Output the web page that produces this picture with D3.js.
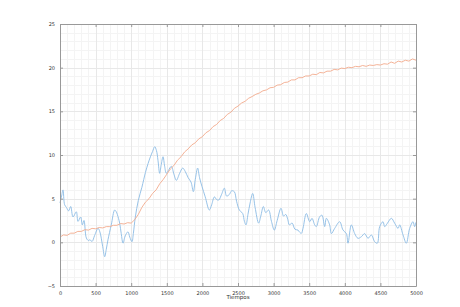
<!DOCTYPE html>
<html><head><meta charset="utf-8">
<script src="https://cdn.jsdelivr.net/npm/d3@7"></script>
<style>html,body{margin:0;padding:0;background:#fff;}svg{display:block;}</style>
</head><body>
<svg id="c" width="460" height="307"></svg>
<script>
const xTicks = [0,500,1000,1500,2000,2500,3000,3500,4000,4500,5000];
const yTicks = [-5,0,5,10,15,20,25];
const xLabel = "Tiempos";

const blueT = [0,20,42,65,90,120,150,183,229,253,290,314,337,370,400,420,450,487,534,560,600,627,650,674,720,768,790,805,838,860,885,910,932,955,980,1011,1030,1058,1100,1150,1200,1236,1270,1300,1330,1355,1376,1400,1420,1447,1470,1493,1520,1564,1600,1634,1680,1723,1760,1800,1840,1873,1900,1933,1960,1994,2040,2097,2130,2168,2200,2229,2270,2308,2340,2380,2410,2448,2480,2519,2566,2590,2612,2640,2670,2706,2740,2790,2820,2856,2890,2930,2970,3010,3050,3104,3140,3170,3200,3221,3260,3300,3343,3361,3390,3413,3460,3507,3539,3577,3600,3647,3680,3717,3741,3787,3811,3858,3928,3975,4022,4045,4092,4139,4185,4232,4279,4326,4373,4420,4457,4490,4537,4560,4598,4654,4701,4748,4771,4818,4864,4911,4958,4981,5000];
const blueV = [4.5,5.2,6.0,4.3,4.0,3.6,4.1,2.9,3.5,2.4,2.9,2.0,2.5,0.5,0.2,0.3,0.1,0.8,1.6,1.2,-0.5,-1.65,-0.8,0.3,2.0,3.7,3.5,3.2,2.2,1.0,-0.1,0.6,1.0,1.2,0.6,0.07,1.0,2.9,4.8,6.3,8.0,9.0,9.8,10.4,10.95,10.5,9.4,7.9,8.8,9.8,8.7,7.9,8.2,8.7,7.8,7.1,7.9,8.5,8.1,7.4,6.9,5.8,7.2,8.5,7.4,6.4,5.2,3.7,4.3,5.2,4.9,4.84,5.5,6.2,5.3,5.5,5.9,5.8,4.7,3.7,3.3,2.4,2.0,3.2,4.5,5.6,4.0,2.2,3.0,4.1,3.4,3.7,2.4,1.4,2.5,3.9,3.0,3.2,2.6,2.0,2.2,1.5,1.4,1.2,1.03,1.6,3.3,2.36,2.75,2.0,1.8,2.93,3.1,1.8,2.75,2.0,1.0,1.6,2.36,1.4,1.0,-0.1,2.0,1.0,0.46,0.64,1.0,0.46,0.84,0.07,-0.1,1.8,2.36,1.8,2.18,2.75,2.18,1.6,2.0,0.84,-0.1,1.6,2.36,1.8,2.3];

const orangeT = [0,50,100,150,200,250,300,350,400,450,500,550,600,650,700,750,800,850,900,950,1000,1050,1100,1150,1200,1250,1300,1350,1400,1450,1500,1550,1600,1650,1700,1750,1800,1850,1900,1950,2000,2050,2100,2150,2200,2250,2300,2350,2400,2450,2500,2550,2600,2650,2700,2750,2800,2850,2900,2950,3000,3050,3100,3150,3200,3250,3300,3350,3400,3450,3500,3550,3600,3650,3700,3750,3800,3850,3900,3950,4000,4050,4100,4150,4200,4250,4300,4350,4400,4450,4500,4550,4600,4650,4700,4750,4800,4850,4900,4950,5000];
const orangeV = [0.6,0.85,0.8,1.05,1.05,1.25,1.25,1.45,1.4,1.6,1.55,1.7,1.65,1.8,1.8,1.95,1.95,2.15,2.1,2.25,2.2,2.6,3.2,4.0,4.6,5.0,5.6,6.0,6.7,7.2,7.8,8.4,8.8,9.4,9.8,10.35,10.7,11.15,11.4,11.85,12.1,12.55,12.8,13.25,13.5,13.95,14.2,14.65,14.9,15.35,15.6,15.95,16.15,16.5,16.7,16.95,17.1,17.35,17.45,17.7,17.75,18.0,18.05,18.3,18.35,18.6,18.6,18.85,18.85,19.05,19.05,19.25,19.2,19.45,19.4,19.6,19.6,19.8,19.75,19.95,19.9,20.05,20.0,20.15,20.1,20.25,20.15,20.3,20.25,20.35,20.3,20.45,20.4,20.65,20.5,20.75,20.65,20.85,20.75,21.0,20.85];

const L = 60, R = 416, T = 24, B = 286;
const svg = d3.select("#c");
const x = d3.scaleLinear().domain([0,5000]).range([L,R]);
const y = d3.scaleLinear().domain([-5,25]).range([B,T]);

// minor grid
const xMinor = d3.range(0,5001,100).filter(v => v % 500 !== 0);
const yMinor = d3.range(-5,25.01,1).filter(v => v % 5 !== 0);
const g = svg.append("g");
g.selectAll(".xm").data(xMinor).enter().append("line")
  .attr("x1",d=>Math.round(x(d))+0.5).attr("x2",d=>Math.round(x(d))+0.5).attr("y1",T).attr("y2",B)
  .attr("stroke","#f4f4f4").attr("stroke-width",1);
g.selectAll(".ym").data(yMinor).enter().append("line")
  .attr("y1",d=>Math.round(y(d))+0.5).attr("y2",d=>Math.round(y(d))+0.5).attr("x1",L).attr("x2",R)
  .attr("stroke","#f4f4f4").attr("stroke-width",1);
// major grid
g.selectAll(".xg").data(xTicks).enter().append("line")
  .attr("x1",d=>Math.round(x(d))+0.5).attr("x2",d=>Math.round(x(d))+0.5).attr("y1",T).attr("y2",B)
  .attr("stroke","#e8e8e8").attr("stroke-width",1);
g.selectAll(".yg").data(yTicks).enter().append("line")
  .attr("y1",d=>Math.round(y(d))+0.5).attr("y2",d=>Math.round(y(d))+0.5).attr("x1",L).attr("x2",R)
  .attr("stroke","#e8e8e8").attr("stroke-width",1);

const blueLine = d3.line().x(d=>x(d[0])).y(d=>y(d[1])).curve(d3.curveCatmullRom.alpha(0.5));
const line = d3.line().x(d=>x(d[0])).y(d=>y(d[1]));
svg.append("path").datum(blueT.map((t,i)=>[t,blueV[i]]))
  .attr("d",blueLine).attr("fill","none").attr("stroke","#8bbbe4").attr("stroke-width",0.9);
svg.append("path").datum(orangeT.map((t,i)=>[t,orangeV[i]]))
  .attr("d",line).attr("fill","none").attr("stroke","#f3aa8c").attr("stroke-width",0.9);

// axes
const fmt = d3.format("d");
const ax = svg.append("g").attr("transform",`translate(0,${B})`)
  .call(d3.axisBottom(x).tickValues(xTicks).tickFormat(fmt).tickSizeInner(-3).tickSizeOuter(0).tickPadding(5));
const ay = svg.append("g").attr("transform",`translate(${L},0)`)
  .call(d3.axisLeft(y).tickValues(yTicks).tickFormat(fmt).tickSizeInner(-3).tickSizeOuter(0).tickPadding(5));
const at = svg.append("g").attr("transform",`translate(0,${T})`)
  .call(d3.axisTop(x).tickValues(xTicks).tickFormat("").tickSizeInner(-3).tickSizeOuter(0));
const ar = svg.append("g").attr("transform",`translate(${R},0)`)
  .call(d3.axisRight(y).tickValues(yTicks).tickFormat("").tickSizeInner(-3).tickSizeOuter(0));
[ax,ay,at,ar].forEach(a=>{
  a.selectAll("path").attr("stroke","#999");
  a.selectAll("line").attr("stroke","#999");
  a.selectAll("text").attr("fill","#333").style("font-family","DejaVu Sans, sans-serif").style("font-size","5px");
});
svg.append("text").attr("x",(L+R)/2).attr("y",299).attr("text-anchor","middle")
  .style("font-family","DejaVu Sans, sans-serif").style("font-size","5.5px").attr("fill","#333").text(xLabel);
</script>
</body></html>
